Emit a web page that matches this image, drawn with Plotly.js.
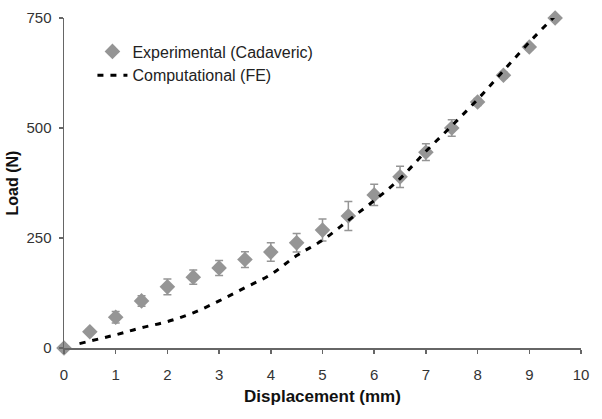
<!DOCTYPE html>
<html>
<head>
<meta charset="utf-8">
<script src="https://cdn.plot.ly/plotly-3.0.1.min.js"></script>
<style>html,body{margin:0;padding:0;background:#fff;}#chart{width:602px;height:419px;}</style>
</head>
<body>
<div id="chart"></div>
<script>
const expX = [0, 0.5, 1, 1.5, 2, 2.5, 3, 3.5, 4, 4.5, 5, 5.5, 6, 6.5, 7, 7.5, 8, 8.5, 9, 9.5];
const expY = [0, 37, 70, 107, 139, 161, 182, 201, 218, 239, 268, 300, 348, 389, 445, 500, 559, 620, 684, 750];
const expErr = [0, 6, 13, 12, 18, 16, 17, 18, 21, 21, 25, 33, 24, 24, 19, 19, 8, 7, 6, 0];
const feX = [0.3, 1, 1.5, 2, 2.5, 3, 3.5, 4, 4.5, 5, 5.5, 6, 6.5, 7, 7.5, 8, 8.5, 9, 9.5];
const feY = [10, 30, 46, 60, 80, 107, 137, 167, 210, 245, 290, 335, 385, 447, 505, 565, 630, 695, 755];
const xTicks = [0,1,2,3,4,5,6,7,8,9,10];
const yTicks = [0,250,500,750];

const FONT = 'Liberation Sans, Arial, sans-serif';

const traces = [
  {
    x: expX, y: expY, type: 'scatter', mode: 'markers', name: 'Experimental (Cadaveric)',
    marker: {symbol: 'diamond', size: 12, color: '#959595'},
    error_y: {type: 'data', array: expErr, visible: true, color: '#959595', thickness: 1.5, width: 4},
    cliponaxis: false
  },
  {
    x: feX, y: feY, type: 'scatter', mode: 'lines', name: 'Computational (FE)',
    line: {color: '#000', width: 3, dash: '6px,7px', shape: 'spline'},
    cliponaxis: false
  }
];

const axisCommon = {
  showgrid: false, zeroline: false, showline: true, linecolor: '#666', linewidth: 1.5,
  ticks: 'outside', ticklen: 4, tickcolor: '#666', tickwidth: 1.5,
  tickfont: {family: FONT, size: 15, color: '#333'}
};

const layout = {
  width: 602, height: 419,
  margin: {l: 64, r: 21, t: 18, b: 71},
  paper_bgcolor: '#fff', plot_bgcolor: '#fff',
  showlegend: true,
  legend: {x: 0.055, y: 0.95, xanchor: 'left', yanchor: 'top', bgcolor: 'rgba(0,0,0,0)',
    font: {family: FONT, size: 16, color: '#222'},
    tracegroupgap: 0, itemwidth: 30},
  xaxis: Object.assign({}, axisCommon, {
    range: [0, 10], tickvals: xTicks, ticktext: xTicks.map(String),
    ticklabelstandoff: 8,
    title: {text: '<b>Displacement (mm)</b>', font: {family: FONT, size: 17, color: '#111'}, standoff: 8}
  }),
  yaxis: Object.assign({}, axisCommon, {
    range: [0, 750], tickvals: yTicks, ticktext: yTicks.map(String),
    ticklabelstandoff: 4,
    title: {text: '<b>Load (N)</b>', font: {family: FONT, size: 16, color: '#111'}, standoff: 4}
  })
};

Plotly.newPlot('chart', traces, layout, {staticPlot: true, displayModeBar: false});
</script>
</body>
</html>
